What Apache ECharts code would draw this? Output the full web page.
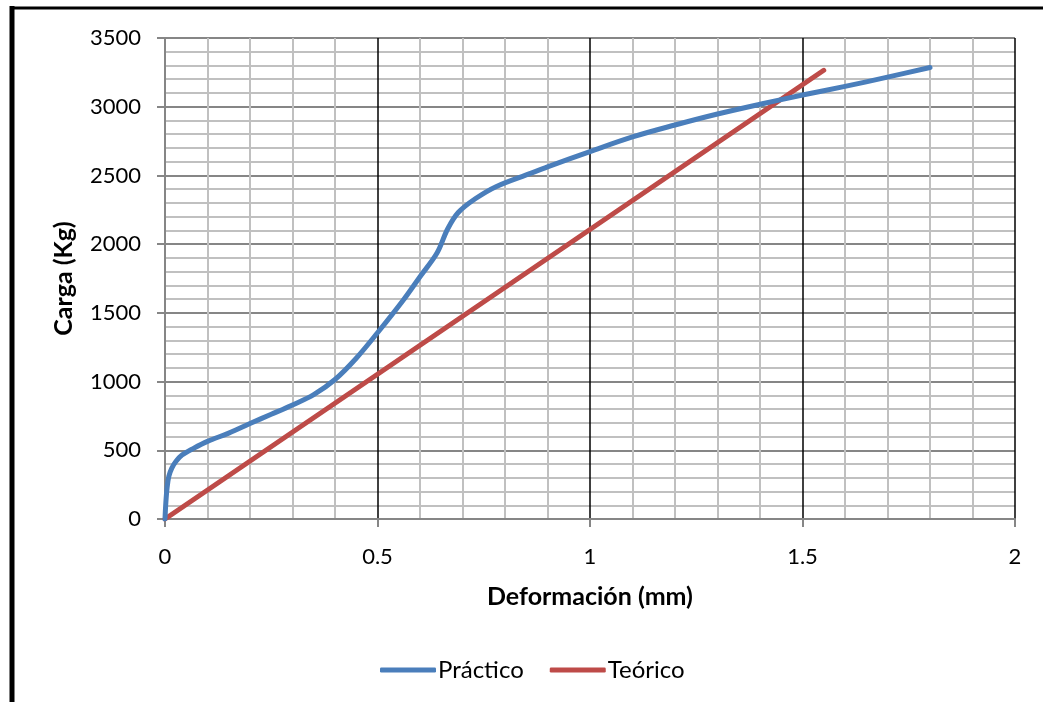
<!DOCTYPE html>
<html>
<head>
<meta charset="utf-8">
<script src="https://cdn.jsdelivr.net/npm/echarts@6/dist/echarts.min.js"></script>
<style>
html,body{margin:0;padding:0;background:#fff;}
#chart{width:1043px;height:702px;}
</style>
</head>
<body>
<div id="chart"></div>
<script>
// Práctico (deformación mm, carga kg)
const practicoX = [0, 0.002, 0.005, 0.009, 0.016, 0.026, 0.04, 0.067, 0.1, 0.15, 0.2, 0.25, 0.3, 0.35, 0.4, 0.45, 0.5, 0.56, 0.6, 0.64, 0.665, 0.69, 0.73, 0.78, 0.86, 0.9, 1.0, 1.1, 1.2, 1.3, 1.4, 1.5, 1.6, 1.7, 1.8];
const practicoY = [0, 120, 230, 310, 370, 420, 465, 514, 565, 625, 695, 762, 830, 905, 1015, 1170, 1355, 1590, 1763, 1935, 2110, 2230, 2330, 2420, 2515, 2562, 2673, 2780, 2867, 2947, 3018, 3085, 3148, 3215, 3285];
// Teórico
const teoricoX = [0, 1.55];
const teoricoY = [0, 3265];
const seriesNames = ['Práctico', 'Teórico'];
const xAxisName = 'Deformación (mm)';
const yAxisName = 'Carga (Kg)';

const zip = (xs, ys) => xs.map((x, i) => [x, ys[i]]);
const FONT = 'Lato';
const BLUE = '#4a7ebb', RED = '#be4b48';

const chart = echarts.init(document.getElementById('chart'));
chart.setOption({
  backgroundColor: '#ffffff',
  animation: false,
  textStyle: { fontFamily: FONT },
  graphic: [
    { type: 'line', shape: { x1: 12, y1: 6, x2: 12, y2: 710 }, style: { stroke: '#000', lineWidth: 5 }, z: 100 },
    { type: 'line', shape: { x1: 10, y1: 8, x2: 1050, y2: 8 }, style: { stroke: '#000', lineWidth: 3 }, z: 100 }
  ],
  grid: { left: 165, right: 28, top: 38, bottom: 183, containLabel: false },
  legend: {
    left: 375, top: 653,
    icon: 'roundRect',
    itemWidth: 56, itemHeight: 5, itemGap: 26,
    textStyle: { fontFamily: FONT, fontSize: 24, color: '#000', padding: [0, 0, 0, -3] },
    data: [
      { name: seriesNames[0], itemStyle: { color: BLUE } },
      { name: seriesNames[1], itemStyle: { color: RED } }
    ]
  },
  xAxis: {
    type: 'value', min: 0, max: 2, interval: 0.5,
    name: xAxisName, nameLocation: 'middle', nameGap: 65,
    nameTextStyle: { fontFamily: FONT, fontSize: 25, fontWeight: 'bold', color: '#000' },
    axisLine: { show: true, lineStyle: { color: '#868686', width: 2 } },
    axisTick: { show: true, length: 8, lineStyle: { color: '#868686', width: 2 } },
    axisLabel: { fontFamily: FONT, fontSize: 22, color: '#000', margin: 27 },
    splitLine: { show: true, showMinLine: false, lineStyle: { color: '#000', width: 1.5 } },
    minorTick: { show: false, splitNumber: 5 },
    minorSplitLine: { show: true, lineStyle: { color: '#c0c0c0', width: 2 } }
  },
  yAxis: {
    type: 'value', min: 0, max: 3500, interval: 500,
    name: yAxisName, nameLocation: 'middle', nameGap: 89, nameRotate: 90,
    nameTextStyle: { fontFamily: FONT, fontSize: 25, fontWeight: 'bold', color: '#000' },
    axisLine: { show: true, lineStyle: { color: '#868686', width: 2 } },
    axisTick: { show: true, length: 8, lineStyle: { color: '#868686', width: 2 } },
    axisLabel: { fontFamily: FONT, fontSize: 22, color: '#000', margin: 24, formatter: v => String(v) },
    splitLine: { show: true, showMinLine: false, lineStyle: { color: '#868686', width: 2 } },
    minorTick: { show: false, splitNumber: 5 },
    minorSplitLine: { show: true, lineStyle: { color: '#c0c0c0', width: 2 } }
  },
  series: [
    {
      name: seriesNames[0], type: 'line', data: zip(practicoX, practicoY),
      smooth: 0.35, symbol: 'none', z: 3,
      lineStyle: { color: BLUE, width: 5, cap: 'round', join: 'round' },
      itemStyle: { color: BLUE }
    },
    {
      name: seriesNames[1], type: 'line', data: zip(teoricoX, teoricoY),
      symbol: 'none', z: 2,
      lineStyle: { color: RED, width: 5, cap: 'round' },
      itemStyle: { color: RED }
    }
  ]
});
</script>
</body>
</html>
